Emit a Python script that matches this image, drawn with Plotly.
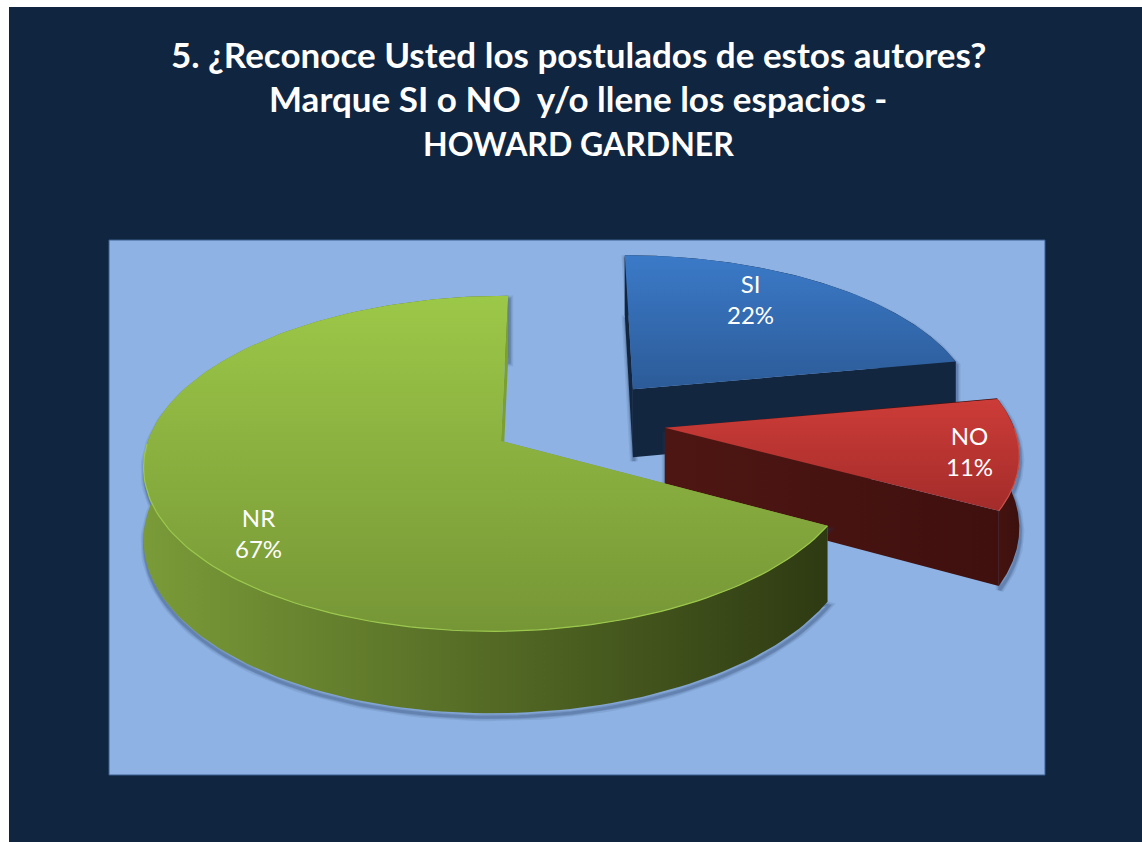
import numpy as np
import plotly.graph_objects as go

# data
labels = ["SI", "NO", "NR"]
values = [22, 11, 67]
title_lines = [
    "5. ¿Reconoce Usted los postulados de estos autores?",
    "Marque SI o NO  y/o llene los espacios -",
    "HOWARD GARDNER",
]

# where each slice label sits on the picture
label_x = [750, 969, 258]
label_y = [299, 451, 533]

# pulled-out offset of each slice on the pie plane (sideways, away from viewer)
pull_x = [135, 165, 0]
pull_z = [114, 28, 0]

top_colors = [("#3b7ac8", "#2c5b98"), ("#cd3c38", "#a32c2a"), ("#9cc848", "#769636")]
rim_colors = ["#3a70b5", "#c9504a", "#9cc84c"]
arc_colors = [("#13263f", "#13263f"), ("#45130f", "#3c100e"), ("#7a9b38", "#2e3a12")]
radial_colors = [("#13263f", "#13263f"), ("#4e1613", "#3f100e"), ("#7b9f34", "#7b9f34")]

# camera of the 3D pie, all in pixels
RADIUS_X = 353
RADIUS_Z = 347
DEPTH = 71
CAM_D = 2590
VANISH_X = 562
VANISH_Y = -789
CENTER_X = 501
CENTER_Y = 441


def project(wx, wz, height=0.0):
    s = 1.0 / (1.0 + np.asarray(wz, dtype=float) / CAM_D)
    x = VANISH_X + (np.asarray(wx, dtype=float) - VANISH_X) * s
    y = VANISH_Y + (CENTER_Y + height - VANISH_Y) * s
    return x, y


def wedge_world(i, a0, a1, n=160):
    t = np.radians(np.linspace(a0, a1, n))
    ox = CENTER_X + pull_x[i]
    oz = pull_z[i]
    return ox, oz, ox + RADIUS_X * np.sin(t), oz + RADIUS_Z * np.cos(t)


def poly_trace(x, y, colors, kind="vertical", start=None, stop=None):
    return go.Scatter(
        x=list(x) + [x[0]],
        y=list(y) + [y[0]],
        mode="lines",
        line=dict(width=0),
        fill="toself",
        fillgradient=dict(
            type=kind,
            colorscale=[[0, colors[0]], [1, colors[1]]],
            start=start,
            stop=stop,
        ),
        hoverinfo="skip",
        showlegend=False,
    )


def radial_wall(ox, oz, wx, wz, colors):
    x0, y0 = project(ox, oz)
    x1, y1 = project(wx, wz)
    x2, y2 = project(wx, wz, DEPTH)
    x3, y3 = project(ox, oz, DEPTH)
    xs = [x0, x1, x2, x3]
    ys = [y0, y1, y2, y3]
    return poly_trace(xs, ys, colors, "horizontal", min(xs), max(xs) + 1)


traces = []
edges = np.cumsum([0] + values) * 360.0 / sum(values)

for i in range(len(values)):
    a0, a1 = edges[i], edges[i + 1]
    ox, oz, wx, wz = wedge_world(i, a0, a1)

    rim_x, rim_y = project(wx, wz)
    low_x, low_y = project(wx, wz, DEPTH)
    ax, ay = project(ox, oz)
    bx, by = project(ox, oz, DEPTH)

    # soft shadow round the body of the slice
    sil_x = np.concatenate([[ax], rim_x, low_x[::-1], [bx]])
    sil_y = np.concatenate([[ay], rim_y, low_y[::-1], [by]])
    for w, alpha in [(8, 0.10), (5, 0.14), (3, 0.2)]:
        traces.append(
            go.Scatter(
                x=np.append(sil_x, sil_x[0]) + 1,
                y=np.append(sil_y, sil_y[0]) + 4,
                mode="lines",
                line=dict(width=w, color=f"rgba(35,55,95,{alpha})"),
                hoverinfo="skip",
                showlegend=False,
            )
        )

    # start face goes under the outer wall, end face over it, top last
    traces.append(radial_wall(ox, oz, wx[0], wz[0], radial_colors[i]))
    wall_x = np.concatenate([rim_x, low_x[::-1]])
    wall_y = np.concatenate([rim_y, low_y[::-1]])
    traces.append(
        poly_trace(wall_x, wall_y, arc_colors[i], "horizontal", wall_x.min(), wall_x.max())
    )
    traces.append(radial_wall(ox, oz, wx[-1], wz[-1], radial_colors[i]))

    top_x = np.concatenate([[ax], rim_x])
    top_y = np.concatenate([[ay], rim_y])
    traces.append(
        poly_trace(top_x, top_y, top_colors[i], "vertical", top_y.min(), top_y.max())
    )

    # the bevel only catches light on the front of the rim
    front = wz < oz
    if front.any():
        traces.append(
            go.Scatter(
                x=rim_x[front],
                y=rim_y[front],
                mode="lines",
                line=dict(width=1.2, color=rim_colors[i]),
                hoverinfo="skip",
                showlegend=False,
            )
        )

fig = go.Figure(traces)

annotations = [
    dict(
        x=label_x[i],
        y=label_y[i],
        text=f"{labels[i]}<br>{values[i]}%",
        showarrow=False,
        font=dict(family="Lato, sans-serif", size=24, color="white"),
        align="center",
    )
    for i in range(len(labels))
]
for line, line_y, line_size in zip(title_lines, [54, 98, 143], [35, 35, 32]):
    annotations.append(
        dict(
            x=578,
            y=line_y,
            text=f"<b>{line}</b>",
            showarrow=False,
            font=dict(family="Lato, sans-serif", size=line_size, color="white"),
            align="center",
        )
    )

fig.update_layout(
    width=1142,
    height=842,
    margin=dict(l=0, r=0, t=0, b=0),
    paper_bgcolor="white",
    plot_bgcolor="white",
    showlegend=False,
    annotations=annotations,
    xaxis=dict(range=[0, 1142], visible=False, fixedrange=True),
    yaxis=dict(range=[842, 0], visible=False, fixedrange=True),
    shapes=[
        dict(type="rect", layer="below", x0=9, y0=7, x1=1142, y1=842,
             fillcolor="#10253f", line_width=0),
        dict(type="rect", layer="below", x0=109, y0=240, x1=1045, y1=775,
             fillcolor="#8db2e3", line=dict(color="#3b5f8f", width=1)),
    ],
)

fig.write_html(
    "out.html",
    config=dict(displayModeBar=False),
    post_script="document.body.style.margin='0';document.body.style.overflow='hidden';",
)
